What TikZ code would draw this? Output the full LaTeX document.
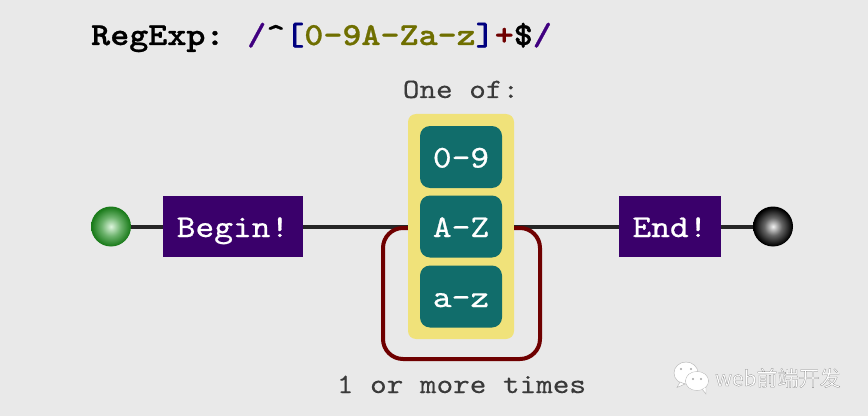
\documentclass[tikz,border=0pt]{standalone}
\usepackage{fontspec}
\newfontfamily\markfont{Noto Sans CJK SC}
\newfontfamily\labelfont{lmmono10-regular.otf}[FakeStretch=1.13,FakeBold=0.7]
\newfontfamily\captionfont{lmmono10-regular.otf}[FakeStretch=1.13,FakeBold=0.2]
\newfontfamily\titlefont{lmmonolt10-bold.otf}[FakeStretch=1.13,FakeBold=0.8]
\definecolor{pagebg}{HTML}{E9E9E9}
\definecolor{railgrey}{HTML}{262626}
\definecolor{inkgrey}{HTML}{3A3A3A}
\definecolor{anchorpurple}{HTML}{3A006B}
\definecolor{slashpurple}{HTML}{400080}
\definecolor{rangeteal}{HTML}{116D6B}
\definecolor{setyellow}{HTML}{F0E27A}
\definecolor{loopred}{HTML}{6F0000}
\definecolor{literalolive}{HTML}{6F6F00}
\definecolor{bracketnavy}{HTML}{00007F}
\definecolor{ballgreenedge}{HTML}{1C7C1C}
\definecolor{ballgreenmid}{HTML}{6DB36D}
\definecolor{ballgreenmain}{HTML}{DDF5DD}
\pgfdeclareradialshading{greenball}{\pgfpoint{0bp}{0bp}}{%
  color(0bp)=(ballgreenmain); color(12bp)=(ballgreenmid); color(24bp)=(ballgreenedge); color(50bp)=(ballgreenedge)}
\pgfdeclareradialshading{blackball}{\pgfpoint{0bp}{0bp}}{%
  color(0bp)=(white!95!black); color(11bp)=(black!60); color(24bp)=(black); color(50bp)=(black)}
\tikzset{
  x=1pt, y=1pt,
  rail/.style={draw=railgrey, line width=4pt},
  ball/.style={circle, minimum size=40pt, inner sep=0pt},
  anchorbox/.style={fill=anchorpurple, text=white, inner sep=0pt, minimum height=61.5pt,
    text height=21pt, text depth=0pt, font=\labelfont\fontsize{31.6}{32}\selectfont},
  rangebox/.style={fill=rangeteal, text=white, rounded corners=10pt, inner sep=0pt,
    minimum width=82pt, minimum height=62pt, text height=21pt, text depth=0pt,
    font=\labelfont\fontsize{31.6}{32}\selectfont},
  caption/.style={text=inkgrey, inner sep=0pt, anchor=base, font=\captionfont\fontsize{28}{29}\selectfont},
  titletext/.style={inner sep=0pt, anchor=base west, font=\titlefont\fontsize{32.1}{33}\selectfont},
  bubble/.style={fill=white, draw=black!30, line width=0.4pt},
  bubbleeye/.style={fill=black!35},
}
\begin{document}
\begin{tikzpicture}
\useasboundingbox[fill=pagebg] (0,0) rectangle (868,416);

% pattern source line
\node[titletext] (title) at (91,371) {RegExp:};
\node[titletext] (pattern) at (247,371) {\textcolor{slashpurple}{/}\textasciicircum\textcolor{bracketnavy}{[}\textcolor{literalolive}{0-9A-Za-z}\textcolor{bracketnavy}{]}\textcolor{loopred}{+}\textcolor{black}{\$}\textcolor{slashpurple}{/}};

% character set group
\node[caption] (setcaption) at (461,318) {One of:};
\node[fill=setyellow, rounded corners=8pt, minimum width=106pt, minimum height=225pt, inner sep=0pt] (group) at (461,189.5) {};
\node[rangebox] (digits) at (461,259) {0-9};
\node[rangebox] (upper) at (461,189.5) {A-Z};
\node[rangebox] (lower) at (461,119.5) {a-z};

% start and end markers with their labels
\node[ball, shading=greenball] (start) at (111,189.5) {};
\node[anchorbox, minimum width=140pt] (begin) at (233,189.5) {Begin!};
\node[anchorbox, minimum width=102pt] (finish) at (670,189.5) {End!};
\node[ball, shading=blackball] (stop) at (773,189.5) {};

% main rail
\draw[rail] (start.east) -- (begin.west);
\draw[rail] (begin.east) -- (group.west);
\draw[rail] (group.east) -- (finish.west);
\draw[rail] (finish.east) -- (stop.west);

% repetition loop below the set
\coordinate (loopleft) at (383,57);
\coordinate (loopright) at (540,57);
\draw[draw=loopred, line width=4pt, rounded corners=20pt]
  ([yshift=-1.5pt]group.west) -| (loopleft) -- (loopright) |- ([yshift=-1.5pt]group.east);
\node[caption] (loopcaption) at (461.5,23) {1 or more times};

% chat badge and account name
\path[bubble] (686,43) ellipse [x radius=12, y radius=11];
\path[bubble] (680,34) -- (677,28.5) -- (685,32) -- cycle;
\path[bubble] (697,35) ellipse [x radius=11.5, y radius=9.5];
\path[bubble] (702,27) -- (706,22) -- (706,29) -- cycle;
\path[fill=white] (697,35) ellipse [x radius=11, y radius=9];
\fill[bubbleeye] (681,47) circle (1.2) (691,47) circle (1.2) (693,37) circle (1.1) (701,37) circle (1.1);
\node[inner sep=0pt, anchor=base west, text=white, font=\markfont\fontsize{21}{21}\selectfont] (account) at (715,30)
  {\special{pdf:code 2 Tr 0.2 w 0.5 G}web前端开发\special{pdf:code 0 Tr}};
\end{tikzpicture}
\end{document}
